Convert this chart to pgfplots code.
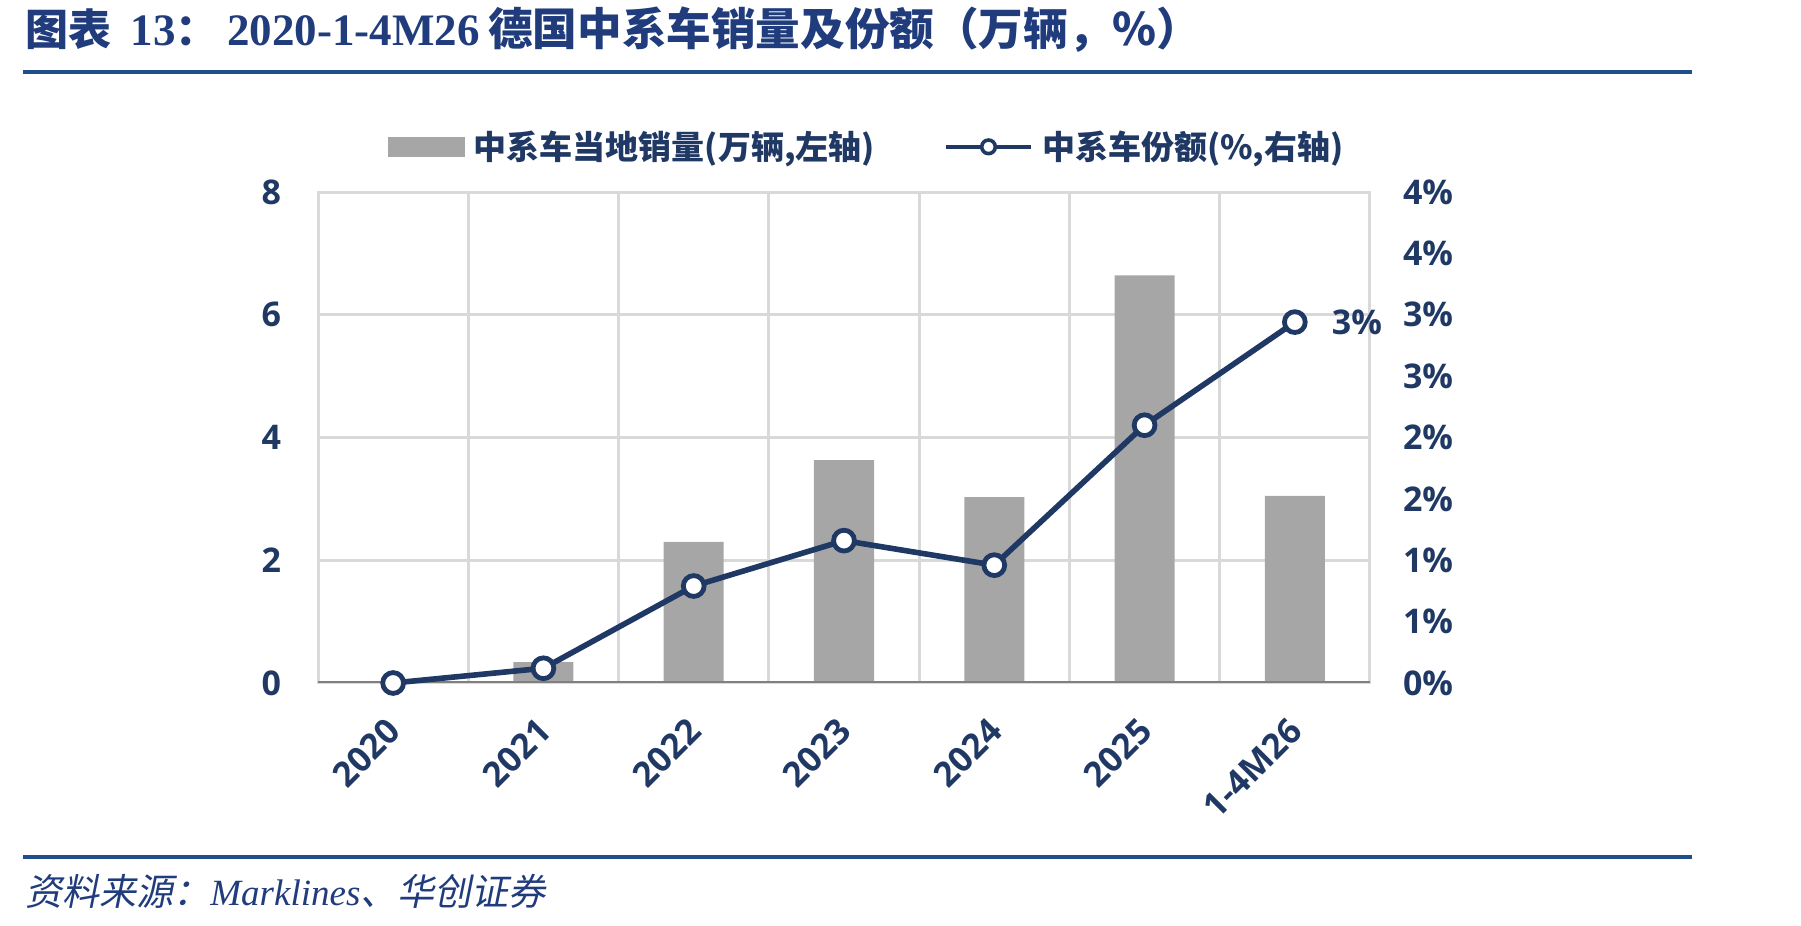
\documentclass[border=0pt]{standalone}
\usepackage{pgfplots}
\pgfplotsset{compat=1.18}
\usepackage{fontspec}
\setmainfont{Open Sans}
\newfontfamily\cjk{Noto Sans CJK SC}
\newfontfamily\cjkit{Noto Sans CJK SC}[FakeSlant=0.2]
\newfontfamily\serif{Liberation Serif}
\definecolor{navy}{HTML}{1F3864}
\definecolor{titleblue}{HTML}{203C7C}
\definecolor{rulecol}{HTML}{1F4E8C}
\definecolor{bargray}{HTML}{A6A6A6}
\definecolor{gridgray}{HTML}{D9D9D9}
\definecolor{axisgray}{HTML}{808080}
\begin{document}
\begin{tikzpicture}
\useasboundingbox (0,0) rectangle (900.5pt,-463pt);
\fill[rulecol] (11.5pt,-35.1pt) rectangle (846pt,-36.9pt);
\fill[rulecol] (11.5pt,-427.6pt) rectangle (846pt,-429.4pt);
\node[anchor=west, text=titleblue, inner sep=0pt] at (12.5pt,-15pt)
  {\fontsize{21.5}{24}\selectfont\cjk\bfseries 图表\hspace{0.45em}{\serif\bfseries\fontsize{22.5}{24}\selectfont 13}：\hspace{0.2em}{\serif\bfseries\fontsize{22.5}{24}\selectfont 2020-1-4M26}\hspace{0.2em}{\fontsize{22.3}{24}\selectfont 德国中系车销量及份额（万辆，\%）}};
\node[anchor=west, text=titleblue, inner sep=0pt] at (12.5pt,-445.5pt)
  {\fontsize{18.5}{22}\selectfont\cjkit 资料来源：{\serif\itshape Marklines}、华创证券};

\begin{axis}[
  at={(159pt,-96pt)}, anchor=north west,
  scale only axis, width=526pt, height=245.5pt,
  xmin=-0.5, xmax=6.5, ymin=0, ymax=8,
  xtick={0,...,6},
  xticklabels={2020,2021,2022,2023,2024,2025,1-4M26},
  minor xtick={0.5,1.5,...,5.5},
  xminorgrids, minor grid style={gridgray, line width=1.5pt},
  ytick={0,2,...,8}, ymajorgrids, major grid style={gridgray, line width=1.5pt},
  axis line style={gridgray, line width=1.5pt},
  major tick length=0pt, minor tick length=0pt,
  /pgf/number format/assume math mode=true,
  yticklabel style={font=\fontsize{17}{20}\selectfont\bfseries, text=navy, xshift=-15pt},
  xticklabel style={font=\fontsize{17.3}{20}\selectfont\bfseries, text=navy, xshift=3pt, yshift=-18.5pt, rotate=45, anchor=east},
  legend style={at={(0.525,1.092)}, anchor=center, draw=none, fill=none,
    legend columns=2, font=\fontsize{16.5}{20}\selectfont\cjk\bfseries, text=navy,
    nodes={inner xsep=4.5pt},
    /tikz/every even column/.append style={column sep=30pt}},
]
\addplot[ybar, bar width=30pt, fill=bargray, draw=none,
  legend image code/.code={\fill[bargray] (0pt,-5pt) rectangle (38.5pt,5pt);}]
  coordinates {(0,0.02) (1,0.34) (2,2.30) (3,3.63) (4,3.03) (5,6.64) (6,3.05)};
\addlegendentry{中系车当地销量(万辆,左轴)}
\addlegendimage{legend image code/.code={\draw[navy, line width=2.2pt] (0pt,0pt) -- (42.5pt,0pt); \draw[navy, line width=1.8pt, fill=white] (21.25pt,0pt) circle (3.4pt);}}
\addlegendentry{中系车份额(\%,右轴)}
\draw[axisgray, line width=1.5pt] (axis cs:-0.5,0) -- (axis cs:6.5,0);
\end{axis}

\begin{axis}[
  at={(159pt,-96pt)}, anchor=north west,
  scale only axis, width=526pt, height=245.5pt,
  xmin=-0.5, xmax=6.5, ymin=0, ymax=4,
  clip=false,
  axis x line=none, axis y line*=right,
  y axis line style={draw=none},
  ytick={0,0.5,1,1.5,2,2.5,3,3.5,4},
  yticklabels={0\%,1\%,1\%,2\%,2\%,3\%,3\%,4\%,4\%},
  major tick length=0pt,
  yticklabel style={font=\fontsize{17}{20}\selectfont\bfseries, text=navy, xshift=13pt},
]
\addplot[navy, line width=2.8pt, mark=*, mark size=5.2pt,
  mark options={fill=white, draw=navy, line width=2.4pt}]
  coordinates {(0,0) (1,0.12) (2,0.79) (3,1.16) (4,0.96) (5,2.10) (6,2.94)};
\node[anchor=west, xshift=15pt, text=navy, font=\fontsize{17}{20}\selectfont\bfseries] at (axis cs:6,2.94) {3\%};
\end{axis}
\end{tikzpicture}
\end{document}
